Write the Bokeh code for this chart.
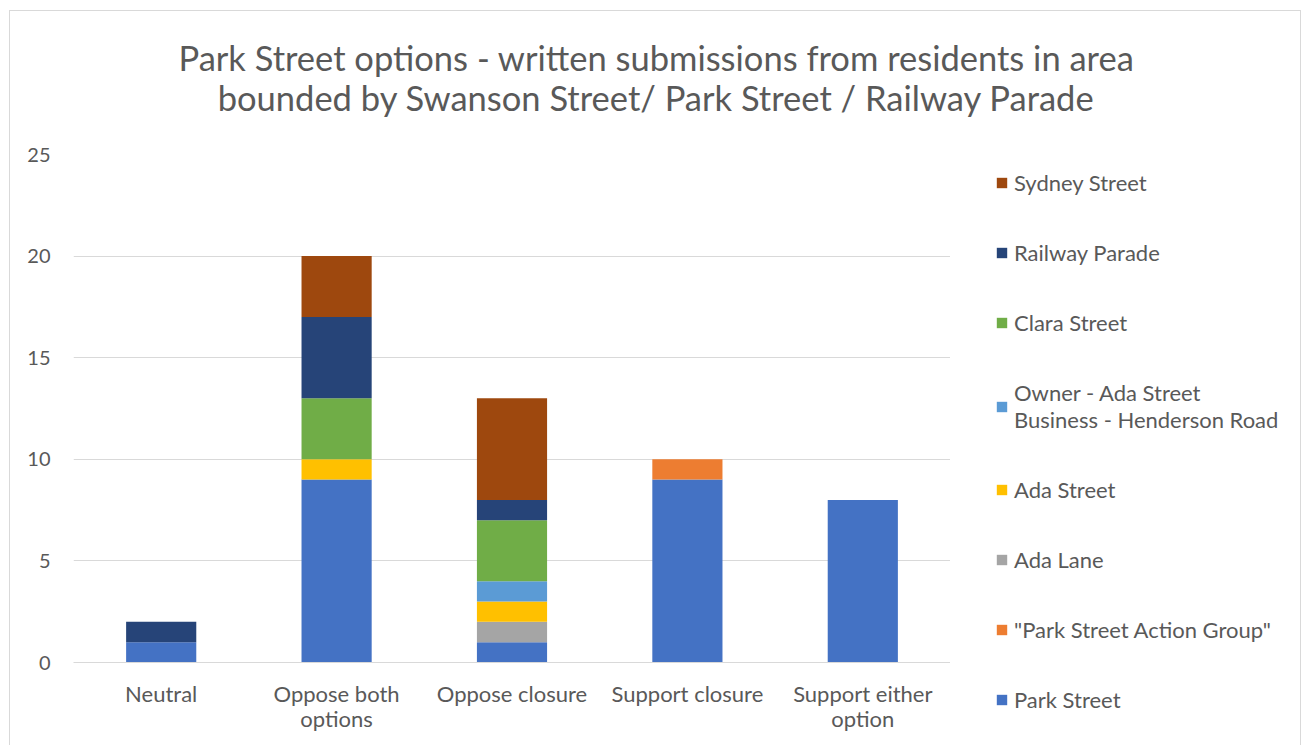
from bokeh.plotting import figure
from bokeh.layouts import column, row
from bokeh.models import Range1d, FactorRange, Legend, LegendItem, Label
from bokeh.embed import file_html
from bokeh.resources import INLINE

categories = ["Neutral", "Oppose both\noptions", "Oppose closure", "Support closure", "Support either\noption"]
series = ["Park Street", "\"Park Street Action Group\"", "Ada Lane", "Ada Street",
          "Owner - Ada Street\nBusiness - Henderson Road", "Clara Street", "Railway Parade", "Sydney Street"]
park_street = [1, 9, 1, 9, 8]
action_group = [0, 0, 0, 1, 0]
ada_lane = [0, 0, 1, 0, 0]
ada_street = [0, 1, 1, 0, 0]
owner_ada = [0, 0, 1, 0, 0]
clara_street = [0, 3, 3, 0, 0]
railway_parade = [1, 4, 1, 0, 0]
sydney_street = [0, 3, 5, 0, 0]
colors = ["#4472C4", "#ED7D31", "#A5A5A5", "#FFC000", "#5B9BD5", "#70AD47", "#264478", "#9E480E"]
title_lines = ["Park Street options - written submissions from residents in area",
               "bounded by Swanson Street/ Park Street / Railway Parade"]

FONT = "Lato"
TXT = "#595959"
GRID = "#D9D9D9"

keys = ["s%d" % i for i in range(len(series))]
data = {"cat": categories}
for k, v in zip(keys, [park_street, action_group, ada_lane, ada_street, owner_ada,
                       clara_street, railway_parade, sydney_street]):
    data[k] = v


def blank(fig):
    fig.axis.visible = False
    fig.grid.visible = False
    fig.outline_line_color = None
    fig.background_fill_color = "white"
    fig.border_fill_color = "white"
    return fig


# --- title strip (coordinates in pixels, y measured from top) ---
pt = blank(figure(width=1290, height=128, x_range=Range1d(0, 1290), y_range=Range1d(128, 0),
                  output_backend="svg", toolbar_location=None,
                  min_border=0, min_border_left=0, min_border_right=0,
                  min_border_top=0, min_border_bottom=0))
for t, yy in zip(title_lines, [46, 86]):
    pt.add_layout(Label(x=646, y=yy, text=t, text_align="center", text_baseline="middle",
                        text_font=FONT, text_font_size="34.5px", text_color=TXT))

# --- main chart ---
p = figure(width=940, height=606, x_range=FactorRange(*categories, range_padding=0),
           y_range=Range1d(0, 25), output_backend="svg", toolbar_location=None,
           min_border_left=63, min_border_right=0, min_border_top=15, min_border_bottom=83)
p.outline_line_color = None
p.background_fill_color = "white"
p.border_fill_color = "white"

rs = p.vbar_stack(keys, x="cat", width=0.4, color=colors, source=data, line_color=None)

p.xgrid.grid_line_color = None
p.ygrid.grid_line_color = GRID
p.ygrid.grid_line_width = 1
p.yaxis.ticker = [0, 5, 10, 15, 20, 25]
p.yaxis.axis_line_color = None
p.yaxis.major_tick_line_color = None
p.yaxis.minor_tick_line_color = None
p.yaxis.major_label_standoff = 17
p.yaxis.major_label_text_font = FONT
p.yaxis.major_label_text_font_size = "20px"
p.yaxis.major_label_text_color = TXT
p.xaxis.axis_line_color = GRID
p.xaxis.major_tick_line_color = None
p.xaxis.minor_tick_line_color = None
p.xaxis.major_label_standoff = 11
p.xaxis.major_label_text_font = FONT
p.xaxis.major_label_text_font_size = "22px"
p.xaxis.major_label_text_color = TXT
p.xaxis.major_label_text_line_height = 0.95

# --- legend panel (same series, hidden bars, legend only) ---
pl = blank(figure(width=350, height=606, x_range=FactorRange(*categories), y_range=Range1d(0, 25),
                  output_backend="svg", toolbar_location=None,
                  min_border=0, min_border_left=0, min_border_right=0,
                  min_border_top=0, min_border_bottom=0))
lr = pl.vbar_stack(keys, x="cat", width=0.4, color=colors, source=data, line_color=None)
for r in lr:
    r.visible = False
items = [LegendItem(label=series[i], renderers=[lr[i]]) for i in reversed(range(len(series)))]
legend = Legend(items=items, location=(45, 32), padding=0, margin=0,
                border_line_color=None, background_fill_alpha=0, inactive_fill_alpha=0,
                glyph_width=13, glyph_height=13, label_height=26, spacing=43,
                label_standoff=6, label_text_font=FONT, label_text_font_size="22px",
                label_text_color=TXT, label_text_line_height=1.25)
pl.add_layout(legend)

layout = column(pt, row(p, column(pl)), margin=(10, 0, 0, 9))
layout.styles = {"border-top": "1px solid #D9D9D9", "border-left": "1px solid #D9D9D9",
                 "border-right": "1px solid #D9D9D9"}

open("out.html", "w").write(file_html(layout, INLINE))
